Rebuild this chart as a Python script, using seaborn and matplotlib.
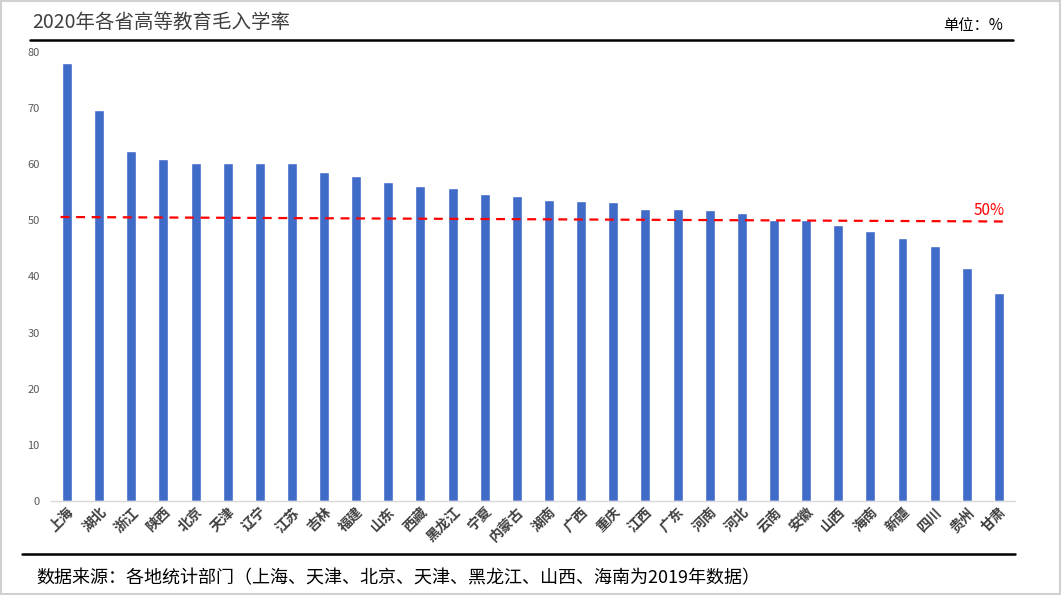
import matplotlib
matplotlib.use('Agg')

import pandas as pd
import matplotlib.pyplot as plt
import seaborn as sns
from matplotlib.lines import Line2D
from matplotlib.patches import Rectangle

# datos
provincias = ['上海', '湖北', '浙江', '陕西', '北京', '天津', '辽宁', '江苏', '吉林', '福建',
              '山东', '西藏', '黑龙江', '宁夏', '内蒙古', '湖南', '广西', '重庆', '江西', '广东',
              '河南', '河北', '云南', '安徽', '山西', '海南', '新疆', '四川', '贵州', '甘肃']
tasa = [78.1, 69.7, 62.4, 61.0, 60.2, 60.2, 60.2, 60.2, 58.6, 57.9,
        56.9, 56.1, 55.8, 54.7, 54.4, 53.7, 53.5, 53.3, 52.1, 52.1,
        51.9, 51.3, 50.1, 50.1, 49.2, 48.1, 46.9, 45.5, 41.5, 37.1]
linea_x = [-0.2, 29.2]
linea_y = [50.6, 49.8]
y_ticks = [0, 10, 20, 30, 40, 50, 60, 70, 80]

sns.set_style('white')
plt.rcParams['font.family'] = ['Noto Sans CJK SC', 'DejaVu Sans']

df = pd.DataFrame({'provincia': provincias, 'tasa': tasa})

fig = plt.figure(figsize=(10.61, 5.95), dpi=100)
ax = fig.add_axes([0.048, 0.158, 0.9086, 0.7546])

sns.barplot(data=df, x='provincia', y='tasa', color='#416BC8', width=0.31,
            saturation=1, ax=ax)

# linea del 50%
ax.plot(linea_x, linea_y, color='#FF0000', linestyle=(0, (4, 3)), linewidth=1.6)
ax.text(28.7, 50.3, '50%', color='#FF0000', fontsize=11, ha='center', va='bottom')

ax.set_xlim(-0.5, 29.5)
ax.set_ylim(0, 80)
ax.set_yticks(y_ticks)
ax.tick_params(axis='y', labelsize=8, colors='#595959', length=0, pad=8)
ax.tick_params(axis='x', length=0, pad=3)
for lab in ax.get_xticklabels():
    lab.set_rotation(45)
    lab.set_ha('right')
    lab.set_va('top')
    lab.set_rotation_mode('anchor')
    lab.set_fontsize(10)
    lab.set_fontweight('bold')
    lab.set_color('#404040')
ax.set_xlabel('')
ax.set_ylabel('')
for s in ['top', 'right', 'left']:
    ax.spines[s].set_visible(False)
ax.spines['bottom'].set_color('#D9D9D9')
ax.spines['bottom'].set_linewidth(1)

# titulo, unidad y fuente
fig.text(0.030, 0.962, '2020年各省高等教育毛入学率', fontsize=14, color='#404040',
         ha='left', va='center')
fig.text(0.945, 0.957, '单位：%', fontsize=11, color='#000000', ha='right', va='center')
fig.add_artist(Line2D([0.028, 0.955], [0.932, 0.932], color='black', linewidth=1.8))
fig.add_artist(Line2D([0.021, 0.957], [0.069, 0.069], color='black', linewidth=1.8))
fig.text(0.034, 0.028, '数据来源：各地统计部门（上海、天津、北京、天津、黑龙江、山西、海南为2019年数据）',
         fontsize=13, color='#000000', ha='left', va='center')
fig.add_artist(Rectangle((0.001, 0.001), 0.998, 0.998, fill=False, edgecolor='#D0D0D0',
                         linewidth=1.5, transform=fig.transFigure))

plt.savefig('out.png', dpi=100)
